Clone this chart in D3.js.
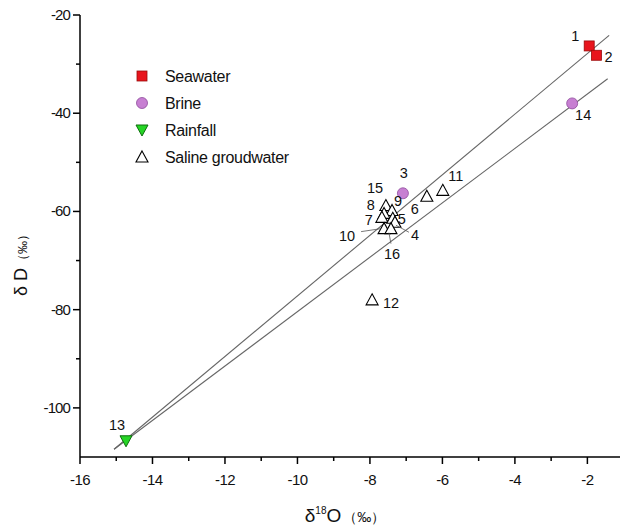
<!DOCTYPE html>
<html><head><meta charset="utf-8">
<script src="https://cdn.jsdelivr.net/npm/d3@7"></script>
<style>
body{margin:0;background:#fff;}
text{font-family:"Liberation Sans",Arial,sans-serif;fill:#111;}
</style></head>
<body><svg id="c" width="622" height="530"></svg>
<script>
// ---- data ----
const sampleIds   = [1, 2, 14, 3, 13, 11, 6, 8, 9, 15, 7, 5, 4, 10, 16, 12];
const sampleType  = ["Seawater","Seawater","Brine","Brine","Rainfall","Saline groudwater","Saline groudwater","Saline groudwater","Saline groudwater","Saline groudwater","Saline groudwater","Saline groudwater","Saline groudwater","Saline groudwater","Saline groudwater","Saline groudwater"];
const d18O        = [-1.95, -1.75, -2.42, -7.09, -14.73, -5.99, -6.43, -7.56, -7.39, -7.61, -7.67, -7.37, -7.31, -7.61, -7.42, -7.94];
const dD          = [-26.3, -28.2, -38.0, -56.3, -106.7, -55.7, -56.9, -58.8, -59.8, -60.4, -61.2, -61.4, -62.2, -63.5, -63.5, -78.0];
const legendItems = ["Seawater","Brine","Rainfall","Saline groudwater"];
const xTicks = [-16,-14,-12,-10,-8,-6,-4,-2];
const yTicks = [-20,-40,-60,-80,-100];
// fitted lines: slope, intercept, x range
const lineSlope = [6.17, 5.54];
const lineIntercept = [-15.5, -25.0];
const lineFrom = [-15.06, -15.06];
const lineTo = [-1.40, -1.44];

// label placement (offset from point, px)
const labelDx = {1:-14,2:12,14:11,3:1,13:-9,11:13,6:-12,8:-15,9:6,15:-9,7:-13,5:9,4:20,10:-37,16:1,12:19};
const labelDy = {1:-10,2:2,14:12,3:-20,13:-16,11:-14,6:13,8:-1,9:-9,15:-25,7:3,5:1,4:13,10:7,16:25,12:3};
// leader lines for crowded labels
const leaders = {10:[-23,3,-3,0],4:[1,3,14,10],16:[-2,4,0,15]};

// ---- chart ----
const svg = d3.select("#c");
const L=80, R=620, T=15, B=457;
const x = d3.scaleLinear().domain([-16,-1.1]).range([L,R]);
const y = d3.scaleLinear().domain([-110,-20]).range([B,T]);

// axes
const xMinor = d3.range(-15,-1,2);
const yMinor = [-30,-50,-70,-90];
const gx = svg.append("g").attr("transform",`translate(0,${B})`);
gx.append("line").attr("x1",L).attr("x2",R).attr("stroke","#000").attr("stroke-width",1.5);
gx.selectAll("line.maj").data(xTicks).join("line").attr("class","maj")
  .attr("x1",d=>x(d)).attr("x2",d=>x(d)).attr("y1",0).attr("y2",7).attr("stroke","#000").attr("stroke-width",1.5);
gx.selectAll("line.min").data(xMinor).join("line").attr("class","min")
  .attr("x1",d=>x(d)).attr("x2",d=>x(d)).attr("y1",0).attr("y2",4).attr("stroke","#000").attr("stroke-width",1.5);
gx.selectAll("text").data(xTicks).join("text")
  .attr("x",d=>x(d)).attr("y",28).attr("text-anchor","middle").attr("font-size",15).attr("letter-spacing",-0.6)
  .text(d=>d);

const gy = svg.append("g").attr("transform",`translate(${L},0)`);
gy.append("line").attr("y1",T).attr("y2",B).attr("stroke","#000").attr("stroke-width",1.5);
gy.selectAll("line.maj").data(yTicks).join("line").attr("class","maj")
  .attr("y1",d=>y(d)).attr("y2",d=>y(d)).attr("x1",0).attr("x2",-7).attr("stroke","#000").attr("stroke-width",1.5);
gy.selectAll("line.min").data(yMinor).join("line").attr("class","min")
  .attr("y1",d=>y(d)).attr("y2",d=>y(d)).attr("x1",0).attr("x2",-4).attr("stroke","#000").attr("stroke-width",1.5);
gy.selectAll("text").data(yTicks).join("text")
  .attr("x",-10).attr("y",d=>y(d)+5).attr("text-anchor","end").attr("font-size",15).attr("letter-spacing",-0.9)
  .text(d=>d);

// axis titles
svg.append("text").attr("x",345).attr("y",522).attr("text-anchor","middle")
  .html('<tspan font-size="19">δ</tspan><tspan font-size="10" dy="-8">18</tspan><tspan font-size="19" dy="8">O</tspan><tspan font-size="14" dx="2">（‰）</tspan>');
svg.append("text").attr("transform","translate(27,262) rotate(-90)").attr("text-anchor","middle")
  .html('<tspan font-size="18">δ D</tspan><tspan font-size="13" dx="1">（‰）</tspan>');

// lines
const lg = svg.append("g");
lineSlope.forEach((s,i)=>{
  const f=v=>s*v+lineIntercept[i];
  lg.append("line").attr("x1",x(lineFrom[i])).attr("y1",y(f(lineFrom[i])))
    .attr("x2",x(lineTo[i])).attr("y2",y(f(lineTo[i])))
    .attr("stroke","#666").attr("stroke-width",1.1);
});

// symbols
const style = {
  "Seawater":{fill:"#e8141c",stroke:"#9a0a0a"},
  "Brine":{fill:"#c77fd2",stroke:"#8e4a9c"},
  "Rainfall":{fill:"#26d526",stroke:"#0d6e0d"},
  "Saline groudwater":{fill:"#fff",stroke:"#000"}
};
function sym(g,type,cx,cy){
  const st=style[type];
  if(type==="Seawater"){
    g.append("rect").attr("x",cx-5).attr("y",cy-5).attr("width",10).attr("height",10).attr("fill",st.fill).attr("stroke",st.stroke).attr("stroke-width",0.8);
  } else if(type==="Brine"){
    g.append("circle").attr("cx",cx).attr("cy",cy).attr("r",5.5).attr("fill",st.fill).attr("stroke",st.stroke).attr("stroke-width",0.8);
  } else if(type==="Rainfall"){
    g.append("path").attr("d",`M${cx-6},${cy-5}L${cx+6},${cy-5}L${cx},${cy+6}Z`).attr("fill",st.fill).attr("stroke",st.stroke).attr("stroke-width",1);
  } else {
    g.append("path").attr("d",`M${cx},${cy-6}L${cx+6},${cy+5}L${cx-6},${cy+5}Z`).attr("fill",st.fill).attr("stroke",st.stroke).attr("stroke-width",1.1);
  }
}
const pg = svg.append("g");
const order = d3.range(sampleIds.length).sort((a,b)=>(sampleType[a]==="Saline groudwater"?0:1)-(sampleType[b]==="Saline groudwater"?0:1));
order.forEach(i=>sym(pg,sampleType[i],x(d18O[i]),y(dD[i])));

// leaders and labels
const tg = svg.append("g");
sampleIds.forEach((id,i)=>{
  const px=x(d18O[i]), py=y(dD[i]);
  if(leaders[id]){
    const l=leaders[id];
    tg.append("line").attr("x1",px+l[0]).attr("y1",py+l[1]).attr("x2",px+l[2]).attr("y2",py+l[3]).attr("stroke","#555").attr("stroke-width",0.8);
  }
  tg.append("text").attr("x",px+labelDx[id]).attr("y",py+labelDy[id]+5).attr("text-anchor","middle")
    .attr("font-size",14.5).text(id);
});

// legend
const leg = svg.append("g");
legendItems.forEach((t,i)=>{
  const cy=76+i*27;
  sym(leg,t,142,cy);
  leg.append("text").attr("x",165).attr("y",cy+6).attr("font-size",16).attr("letter-spacing",-0.3).text(t);
});
</script></body></html>
